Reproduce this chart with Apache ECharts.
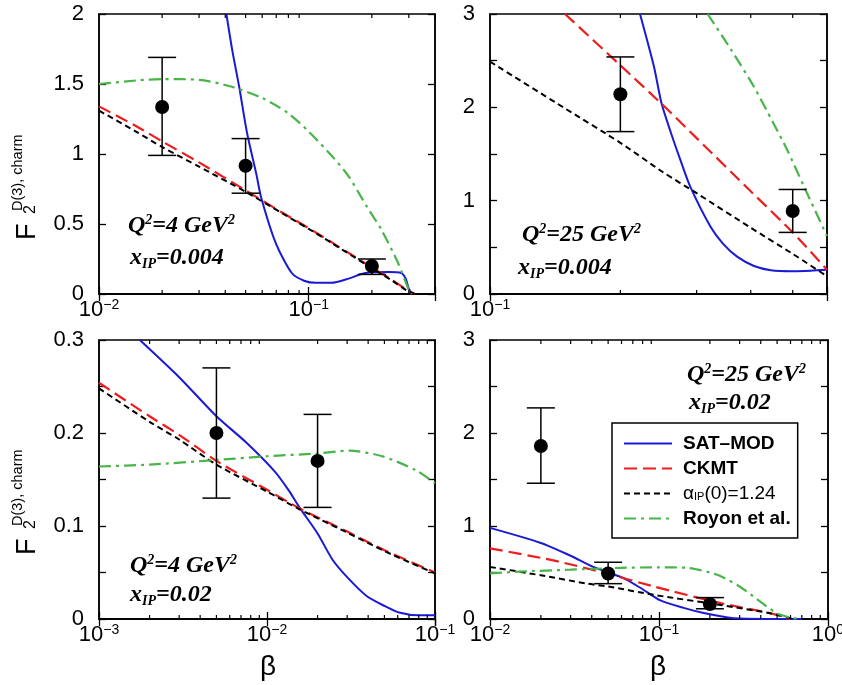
<!DOCTYPE html>
<html><head><meta charset="utf-8">
<script src="https://cdn.jsdelivr.net/npm/echarts@6/dist/echarts.min.js"></script>
<style>html,body{margin:0;padding:0;background:#fff}#c{width:842px;height:685px}</style>
</head><body><div id="c"></div><script>
// ---------- data ----------
const seriesNames = ['SAT–MOD', 'CKMT', 'αIP(0)=1.24', 'Royon et al.'];

// Panel TL: Q2=4, xIP=0.004
const satTL = [[0.0405,2.0],[0.0432,1.74],[0.0466,1.48],[0.0508,1.15],[0.0562,0.86],[0.0593,0.69],[0.0698,0.36],[0.083,0.15],[0.095,0.095],[0.108,0.08],[0.1285,0.08],[0.155,0.11],[0.186,0.15],[0.24,0.157],[0.276,0.15],[0.29,0.11],[0.298,0.05],[0.31,0]];
const ckmtTL = [[0.01,1.34],[0.015,1.2],[0.02,1.09],[0.03,0.94],[0.05,0.74],[0.075,0.58],[0.1,0.47],[0.13,0.365],[0.16,0.28],[0.2,0.19],[0.25,0.1],[0.29,0.035],[0.32,0]];
const alphaTL = [[0.01,1.31],[0.015,1.16],[0.02,1.05],[0.03,0.91],[0.05,0.73],[0.075,0.575],[0.1,0.465],[0.13,0.36],[0.16,0.275],[0.2,0.185],[0.25,0.095],[0.29,0.03],[0.32,0]];
const royonTL = [[0.01,1.5],[0.015,1.525],[0.02,1.535],[0.03,1.53],[0.043,1.48],[0.06,1.4],[0.08,1.29],[0.1,1.16],[0.13,0.98],[0.155,0.84],[0.19,0.62],[0.222,0.46],[0.267,0.22],[0.3,0.03],[0.31,0]];
const dataTL = [[0.02,1.336,0.99,1.69],[0.05,0.916,0.72,1.11],[0.2,0.2,0.14,0.25]];

// Panel TR: Q2=25, xIP=0.004
const satTR = [[0.222,3.0],[0.239,2.44],[0.249,2.04],[0.262,1.72],[0.275,1.44],[0.29,1.15],[0.323,0.72],[0.345,0.54],[0.372,0.40],[0.407,0.3],[0.445,0.255],[0.5,0.245],[0.55,0.25],[0.6,0.26]];
const ckmtTR = [[0.149,3.0],[0.2,2.45],[0.25,2.03],[0.3,1.67],[0.4,1.1],[0.5,0.66],[0.6,0.26]];
const alphaTR = [[0.1,2.49],[0.15,1.98],[0.2,1.62],[0.25,1.31],[0.3,1.08],[0.4,0.71],[0.5,0.43],[0.6,0.19]];
const royonTR = [[0.318,3.0],[0.36,2.62],[0.407,2.22],[0.45,1.84],[0.486,1.54],[0.531,1.15],[0.6,0.62]];
const dataTR = [[0.2,2.14,1.74,2.54],[0.5,0.89,0.66,1.12]];

// Panel BL: Q2=4, xIP=0.02
const satBL = [[0.00175,0.3],[0.003,0.26],[0.005,0.218],[0.0075,0.19],[0.0112,0.158],[0.0135,0.138],[0.0156,0.12],[0.02,0.092],[0.0245,0.064],[0.03,0.045],[0.039,0.025],[0.05,0.014],[0.061,0.007],[0.08,0.004],[0.1,0.004]];
const ckmtBL = [[0.001,0.254],[0.002,0.218],[0.003,0.198],[0.005,0.17],[0.01,0.139],[0.0156,0.119],[0.03,0.094],[0.05,0.074],[0.1,0.05]];
const alphaBL = [[0.001,0.248],[0.002,0.212],[0.003,0.193],[0.005,0.166],[0.01,0.137],[0.0156,0.118],[0.03,0.093],[0.05,0.073],[0.1,0.049]];
const royonBL = [[0.001,0.164],[0.002,0.166],[0.005,0.171],[0.01,0.175],[0.02,0.178],[0.031,0.181],[0.0485,0.175],[0.077,0.16],[0.1,0.146]];
const dataBL = [[0.005,0.2,0.13,0.27],[0.02,0.17,0.12,0.22]];

// Panel BR: Q2=25, xIP=0.02
const satBR = [[0.01,0.98],[0.0198,0.82],[0.03,0.68],[0.0408,0.56],[0.0616,0.44],[0.08,0.32],[0.102,0.2],[0.14,0.12],[0.184,0.064],[0.25,0.02],[0.3,0.005],[0.5,0],[0.7,0]];
const ckmtBR = [[0.01,0.76],[0.0237,0.63],[0.049,0.49],[0.093,0.35],[0.232,0.17],[0.46,0.06],[0.6,0.0]];
const alphaBR = [[0.01,0.56],[0.02,0.47],[0.0377,0.38],[0.05,0.35],[0.093,0.26],[0.232,0.15],[0.46,0.06],[0.62,0.0]];
const royonBR = [[0.01,0.49],[0.015,0.51],[0.03,0.53],[0.059,0.55],[0.1,0.555],[0.148,0.55],[0.2,0.5],[0.232,0.46],[0.3,0.35],[0.36,0.245],[0.43,0.14],[0.5,0.06],[0.6,0.015],[0.7,0]];
const dataBR = [[0.02,1.86,1.46,2.27],[0.05,0.49,0.38,0.61],[0.2,0.16,0.11,0.23]];

// axis ranges and tick values
const xRanges = [[0.01,0.4],[0.1,0.6],[0.001,0.1],[0.01,1]];
const yRanges = [[0,2],[0,3],[0,0.3],[0,3]];
const yTickSteps = [0.5,0.5,0.05,0.5];
const yLabelSteps = [0.5,1,0.1,1];
const minorTL = [0.02,0.03,0.04,0.05,0.06,0.07,0.08,0.09,0.2,0.3,0.4];
const minorTR = [0.2,0.3,0.4,0.5];
const minorBL = [0.002,0.003,0.004,0.005,0.006,0.007,0.008,0.009,0.02,0.03,0.04,0.05,0.06,0.07,0.08,0.09];
const minorBR = [0.02,0.03,0.04,0.05,0.06,0.07,0.08,0.09,0.2,0.3,0.4,0.5,0.6,0.7,0.8,0.9];
const q2Labels = ['4','25','4','25'];
const xipLabels = ['0.004','0.004','0.02','0.02'];

// ---------- layout / style ----------
const grids = [
  {left:99, top:14, width:336, height:280},
  {left:490, top:14, width:337, height:280},
  {left:99, top:340, width:336, height:279},
  {left:490, top:340, width:338, height:279}
];
const curves = [
  [satTL, ckmtTL, alphaTL, royonTL],
  [satTR, ckmtTR, alphaTR, royonTR],
  [satBL, ckmtBL, alphaBL, royonBL],
  [satBR, ckmtBR, alphaBR, royonBR]
];
const points = [dataTL, dataTR, dataBL, dataBR];
const minors = [minorTL, minorTR, minorBL, minorBR];
const lineStyles = [
  {color:'#1a1ad6', width:2, type:'solid'},
  {color:'#ee1c1c', width:2.2, type:[13,6]},
  {color:'#000000', width:2, type:[6,4]},
  {color:'#48b548', width:2.2, type:[12,5,3,5]}
];
const SANS = 'Liberation Sans', SERIF = 'Liberation Serif';

const richX = {
  b:{fontSize:22, lineHeight:24, fontFamily:SANS, color:'#000'},
  s:{fontSize:14, lineHeight:14, verticalAlign:'top', fontFamily:SANS, color:'#000'}
};
function logLabel(v){
  const l = Math.log10(v), e = Math.round(l);
  if (Math.abs(l - e) > 1e-6) return '';
  return '{b|10}{s|' + (e < 0 ? '−' + (-e) : String(e)) + '}';
}
function yLabelFn(step){
  return function(v){
    const r = v / step;
    if (Math.abs(r - Math.round(r)) > 1e-6) return '';
    return String(+v.toFixed(3));
  };
}
function renderErr(params, api){
  const x = api.value(0), lo = api.value(2), hi = api.value(3);
  const a = api.coord([x, lo]), b = api.coord([x, hi]);
  const w = 14, st = {stroke:'#000', lineWidth:1.5};
  return {type:'group', children:[
    {type:'line', shape:{x1:a[0],y1:a[1],x2:b[0],y2:b[1]}, style:st},
    {type:'line', shape:{x1:a[0]-w,y1:a[1],x2:a[0]+w,y2:a[1]}, style:st},
    {type:'line', shape:{x1:b[0]-w,y1:b[1],x2:b[0]+w,y2:b[1]}, style:st}
  ]};
}
function renderMinor(params, api){
  const cs = params.coordSys;
  const p = api.coord([api.value(0), api.value(1)]);
  const yb = cs.y + cs.height, yt = cs.y, st = {stroke:'#000', lineWidth:1.2};
  return {type:'group', children:[
    {type:'line', shape:{x1:p[0],y1:yb,x2:p[0],y2:yb-4}, style:st},
    {type:'line', shape:{x1:p[0],y1:yt,x2:p[0],y2:yt+4}, style:st}
  ]};
}

const xAxes = [], yAxes = [], series = [];
for (let i = 0; i < 4; i++) {
  xAxes.push({type:'log', logBase:10, gridIndex:i, min:xRanges[i][0], max:xRanges[i][1], position:'bottom',
    splitLine:{show:false}, minorTick:{show:false}, axisPointer:{show:false},
    axisLine:{show:true, lineStyle:{color:'#000', width:1.5}},
    axisTick:{show:true, inside:true, length:7, lineStyle:{color:'#000', width:1.3}},
    axisLabel:{show:true, margin:4, formatter:logLabel, rich:richX, color:'#000', showMinLabel:true, showMaxLabel:true, hideOverlap:false}});
}
for (let i = 0; i < 4; i++) {
  xAxes.push({type:'log', logBase:10, gridIndex:i, min:xRanges[i][0], max:xRanges[i][1], position:'top', splitLine:{show:false},
    axisLine:{show:true, lineStyle:{color:'#000', width:1.5}},
    axisTick:{show:true, inside:true, length:7, lineStyle:{color:'#000', width:1.3}},
    axisLabel:{show:false}});
}
for (let i = 0; i < 4; i++) {
  yAxes.push({type:'value', gridIndex:i, min:yRanges[i][0], max:yRanges[i][1], interval:yTickSteps[i], position:'left',
    splitLine:{show:false},
    axisLine:{show:true, lineStyle:{color:'#000', width:1.5}},
    axisTick:{show:true, inside:true, length:7, lineStyle:{color:'#000', width:1.3}},
    axisLabel:{show:true, margin:15, formatter:yLabelFn(yLabelSteps[i]), fontSize:22, fontFamily:SANS, color:'#000', showMinLabel:true, showMaxLabel:true}});
}
for (let i = 0; i < 4; i++) {
  yAxes.push({type:'value', gridIndex:i, min:yRanges[i][0], max:yRanges[i][1], interval:yTickSteps[i], position:'right',
    splitLine:{show:false},
    axisLine:{show:true, lineStyle:{color:'#000', width:1.5}},
    axisTick:{show:true, inside:true, length:7, lineStyle:{color:'#000', width:1.3}},
    axisLabel:{show:false}});
}
for (let i = 0; i < 4; i++) {
  for (let k = 0; k < 4; k++) {
    series.push({type:'line', name:seriesNames[k], xAxisIndex:i, yAxisIndex:i, data:curves[i][k],
      showSymbol:false, symbol:'none', smooth:0.25, clip:true, lineStyle:lineStyles[k], itemStyle:{color:lineStyles[k].color},
      emphasis:{disabled:true}, z:2, animation:false});
  }
  series.push({type:'custom', xAxisIndex:i, yAxisIndex:i, data:points[i], encode:{x:0, y:[2,3]}, renderItem:renderErr, z:3, silent:true, animation:false});
  series.push({type:'scatter', xAxisIndex:i, yAxisIndex:i, data:points[i], encode:{x:0, y:1}, symbol:'circle', symbolSize:14, itemStyle:{color:'#000', opacity:1}, z:4, silent:true, animation:false});
  series.push({type:'custom', xAxisIndex:i, yAxisIndex:i, data:minors[i].map(v => [v, 0]), encode:{x:0, y:1}, renderItem:renderMinor, z:5, silent:true, animation:false});
}

// annotations
const richAnn = {
  q:{fontSize:24, fontFamily:SERIF, fontStyle:'italic', fontWeight:'bold', color:'#000', lineHeight:26},
  sp:{fontSize:14, fontFamily:SERIF, fontStyle:'italic', fontWeight:'bold', color:'#000', lineHeight:14, verticalAlign:'top', padding:[0,0,10,0]},
  sb:{fontSize:14, fontFamily:SERIF, fontStyle:'italic', fontWeight:'bold', color:'#000', lineHeight:14, verticalAlign:'bottom', padding:[16,0,0,0]}
};
const annPos = [
  {q:[128,226], x:[130,258]},
  {q:[522,235], x:[518,268]},
  {q:[130,566], x:[130,595]},
  {q:[687,375], x:[689,403]}
];
function txt(x, y, text, rich){
  return {type:'text', x:x, y:y, z:100, style:{text:text, rich:rich, align:'left', verticalAlign:'middle', textAlign:'left', textVerticalAlign:'middle', fill:'#000'}};
}
const graphics = [];
for (let i = 0; i < 4; i++) {
  graphics.push(txt(annPos[i].q[0], annPos[i].q[1], '{q|Q}{sp|2}{q|=' + q2Labels[i] + ' GeV}{sp|2}', richAnn));
  graphics.push(txt(annPos[i].x[0], annPos[i].x[1], '{q|x}{sb|IP}{q|=' + xipLabels[i] + '}', richAnn));
}
// y-axis titles
const titleStarts = [240, 555];
titleStarts.forEach(function(y0){
  graphics.push({type:'text', x:28, y:y0, rotation:Math.PI/2, z:100, style:{text:'F', fontSize:27, fontFamily:SANS, fill:'#000', align:'left', verticalAlign:'middle', textAlign:'left', textVerticalAlign:'middle'}});
  graphics.push({type:'text', x:31, y:y0-26, rotation:Math.PI/2, z:100, style:{text:'2', fontSize:16, fontFamily:SANS, fill:'#000', align:'left', verticalAlign:'middle', textAlign:'left', textVerticalAlign:'middle'}});
  graphics.push({type:'text', x:18, y:y0-29, rotation:Math.PI/2, z:100, style:{text:'D(3), charm', fontSize:14.5, fontFamily:SANS, fill:'#000', align:'left', verticalAlign:'middle', textAlign:'left', textVerticalAlign:'middle'}});
});
// x-axis titles
[268, 658].forEach(function(x){
  graphics.push({type:'text', x:x, y:667, z:100, style:{text:'β', fontSize:28, fontFamily:SANS, fill:'#000', align:'center', verticalAlign:'middle', textAlign:'center', textVerticalAlign:'middle'}});
});

const chart = echarts.init(document.getElementById('c'), null, {renderer:'canvas'});
chart.setOption({
  animation:false,
  backgroundColor:'#fff',
  grid: grids.map(g => Object.assign({show:true, borderColor:'#000', borderWidth:1.5, backgroundColor:'transparent', containLabel:false, outerBoundsMode:'none'}, g)),
  xAxis: xAxes,
  yAxis: yAxes,
  legend: {
    show:true, orient:'vertical', left:612, top:423, selectedMode:false,
    data: seriesNames,
    itemWidth:48, itemHeight:14, itemGap:6,
    padding:[11,7,10,11],
    borderColor:'#000', borderWidth:1.5, backgroundColor:'#fff',
    itemStyle:{opacity:0},
    formatter:function(n){ return n === seriesNames[2] ? '{n|α}{sub|IP}{n|(0)=1.24}' : '{bd|' + n + '}'; },
    textStyle:{color:'#000', fontFamily:SANS, fontSize:19, fontWeight:'bold', padding:[0,0,0,6],
      rich:{
        bd:{fontSize:19, lineHeight:18, fontWeight:'bold', fontFamily:SANS, color:'#000'},
        n:{fontSize:19, lineHeight:18, fontWeight:'normal', fontFamily:SANS, color:'#000'},
        sub:{fontSize:11, lineHeight:18, fontWeight:'normal', fontFamily:SANS, color:'#000', verticalAlign:'bottom', padding:[6,0,0,0]}
      }}
  },
  graphic: graphics,
  series: series
});
</script></body></html>
